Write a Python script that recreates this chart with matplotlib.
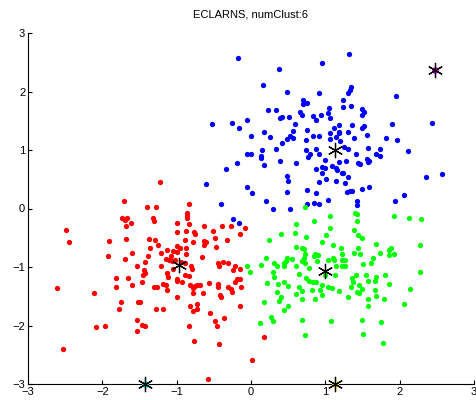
"""Clustering scatter: ECLARNS result with six cluster centres."""
import matplotlib
matplotlib.use("Agg")
import matplotlib.pyplot as plt
import numpy as np

# --------------------------------------------------------------------------- #
# Data
# --------------------------------------------------------------------------- #
red_pts = [
    (-1.71, 0.12), (-1.40, 0.03), (-1.73, -0.17), (-1.67, -0.17), (-1.69, -0.20),
    (-1.62, -0.24), (-1.68, -0.30), (-2.49, -0.36), (-2.45, -0.57), (-1.91, -0.55),
    (-1.68, -0.52), (-1.37, -0.52), (-1.36, -0.67), (-1.60, -0.76), (-1.93, -0.81),
    (-1.69, -0.87), (-1.38, -0.82), (-1.43, -0.92), (-1.54, -0.98), (-1.44, -1.05),
    (-1.42, -1.11), (-1.45, -1.14), (-1.82, -1.18), (-1.66, -1.18), (-2.61, -1.36),
    (-2.11, -1.44), (-1.81, -1.34), (-1.60, -1.31), (-1.46, -1.25), (-1.75, -1.59),
    (-1.52, -1.60), (-1.78, -1.72), (-1.53, -1.91), (-1.47, -1.99), (-1.43, -2.01),
    (-1.53, -2.09), (-2.08, -2.03), (-1.97, -2.01), (-2.53, -2.41), (-1.22, 0.45),
    (-1.28, 0.03), (-0.83, 0.08), (-1.32, -0.17), (-1.31, -0.21), (-0.86, -0.08),
    (-0.86, -0.12), (-0.86, -0.17), (-0.99, -0.25), (-0.84, -0.27), (-0.99, -0.40),
    (-0.87, -0.38), (-0.76, -0.41), (-0.75, -0.44), (-0.63, -0.30), (-0.39, -0.30),
    (-0.27, -0.30), (-0.08, -0.33), (-0.51, -0.38), (-0.15, -0.44), (-1.29, -0.53),
    (-0.89, -0.53), (-0.78, -0.58), (-0.63, -0.56), (-0.60, -0.58), (-0.63, -0.62),
    (-0.48, -0.51), (-0.32, -0.53), (-0.47, -0.65), (-1.25, -0.62), (-1.00, -0.64),
    (-0.95, -0.68), (-0.87, -0.67), (-1.13, -0.71), (-1.05, -0.72), (-1.00, -0.74),
    (-1.21, -0.76), (-0.87, -0.78), (-1.07, -0.81), (-0.66, -0.83), (-1.14, -0.87),
    (-1.10, -0.88), (-1.06, -0.89), (-1.02, -0.88), (-0.94, -0.91), (-0.89, -0.94),
    (-0.45, -0.94), (-0.43, -0.98), (-0.38, -0.91), (-0.31, -0.94), (-0.21, -0.98),
    (-1.21, -0.99), (-1.05, -1.03), (-0.81, -0.98), (-0.79, -1.04), (-1.13, -1.11),
    (-1.12, -1.17), (-1.00, -1.21), (-0.89, -1.14), (-0.83, -1.15), (-0.24, -1.05),
    (-0.15, -1.04), (-0.19, -1.21), (-0.15, -1.20), (-1.31, -1.34), (-1.26, -1.34),
    (-1.18, -1.29), (-1.15, -1.31), (-1.00, -1.24), (-0.93, -1.25), (-1.13, -1.39),
    (-1.00, -1.52), (-0.82, -1.31), (-0.78, -1.36), (-0.75, -1.32), (-0.72, -1.31),
    (-0.69, -1.30), (-0.78, -1.45), (-0.64, -1.45), (-0.56, -1.27), (-0.45, -1.29),
    (-0.44, -1.34), (-0.42, -1.48), (-0.40, -1.51), (-0.31, -1.35), (-0.27, -1.38),
    (-0.26, -1.43), (-0.21, -1.25), (-0.13, -1.35), (-1.49, -1.60), (-1.28, -1.72),
    (-1.18, -1.72), (-0.82, -1.67), (-0.72, -1.64), (-0.72, -1.72), (-0.78, -1.76),
    (-0.55, -1.78), (-0.15, -1.67), (-0.36, -1.87), (-0.48, -1.92), (-0.46, -2.01),
    (-0.83, -2.01), (-0.77, -2.26), (-0.43, -2.32), (0.02, -2.59), (-0.58, -2.92),
    (0.17, -2.20),
]

blue_pts = [
    (-0.17, 2.57), (0.38, 2.38), (0.96, 2.49), (0.16, 2.11), (0.48, 2.00),
    (0.92, 1.97), (0.70, 1.85), (0.70, 1.79), (0.75, 1.81), (0.23, 1.68),
    (0.33, 1.68), (0.66, 1.65), (0.68, 1.60), (1.05, 1.71), (1.04, 1.64),
    (1.06, 1.54), (0.94, 1.60), (0.83, 1.58), (0.87, 1.51), (0.39, 1.54),
    (0.42, 1.56), (0.51, 1.56), (0.59, 1.44), (-0.05, 1.52), (-0.52, 1.44),
    (-0.26, 1.46), (-0.16, 1.38), (0.18, 1.31), (0.57, 1.32), (0.76, 1.35),
    (1.11, 1.37), (0.00, 1.24), (0.25, 1.22), (0.52, 1.24), (0.57, 1.21),
    (0.48, 1.19), (0.84, 1.24), (0.91, 1.24), (1.06, 1.29), (1.06, 1.19),
    (0.74, 1.17), (0.42, 1.12), (0.15, 1.00), (0.34, 1.02), (0.74, 1.00),
    (0.88, 1.02), (-0.05, 0.94), (0.00, 0.93), (0.13, 0.90), (0.13, 0.86),
    (0.80, 0.93), (0.77, 0.88), (0.91, 0.93), (0.99, 0.83), (0.17, 0.75),
    (0.39, 0.81), (0.61, 0.78), (-0.34, 0.68), (-0.19, 0.77), (0.88, 0.67),
    (0.95, 0.71), (0.99, 0.69), (1.09, 0.73), (0.95, 0.60), (0.49, 0.56),
    (0.50, 0.47), (1.01, 0.51), (0.92, 0.45), (-0.60, 0.42), (-0.05, 0.37),
    (0.01, 0.26), (0.48, 0.28), (0.75, 0.31), (0.88, 0.26), (-0.40, 0.07),
    (0.20, 0.12), (0.29, 0.00), (0.52, 0.00), (0.76, 0.07), (0.85, 0.09),
    (0.91, 0.07), (1.03, 0.14), (-0.24, -0.18), (-0.16, -0.24), (1.42, 0.13),
    (1.42, 0.06), (1.94, 0.13), (2.06, 0.23), (1.32, 2.64), (1.95, 1.93),
    (1.35, 2.07), (1.33, 2.03), (1.31, 1.98), (1.24, 1.85), (1.24, 1.73),
    (1.35, 1.75), (1.49, 1.70), (1.52, 1.65), (1.49, 1.60), (1.18, 1.42),
    (1.18, 1.31), (1.19, 1.29), (1.36, 1.42), (1.52, 1.41), (1.50, 1.37),
    (1.90, 1.44), (2.43, 1.46), (1.30, 1.30), (1.56, 1.26), (1.14, 1.23),
    (1.38, 1.21), (1.81, 1.21), (1.96, 1.17), (1.20, 1.16), (1.25, 1.05),
    (1.30, 1.02), (1.57, 1.03), (1.74, 1.02), (2.11, 0.98), (1.41, 0.93),
    (1.68, 0.93), (1.73, 0.90), (1.19, 0.80), (1.28, 0.82), (1.44, 0.78),
    (1.47, 0.76), (1.56, 0.84), (1.57, 0.80), (1.59, 0.81), (1.14, 0.70),
    (1.16, 0.66), (1.22, 0.61), (1.24, 0.61), (1.30, 0.53), (1.15, 0.47),
    (1.27, 0.43), (2.35, 0.54), (2.57, 0.59), (1.59, 0.37), (1.49, 0.33),
    (1.29, 0.28), (1.33, 0.30), (1.36, 0.30),
]

green_pts = [
    (0.73, 0.03), (0.85, -0.21), (1.06, -0.13), (0.61, -0.27), (1.06, -0.34),
    (1.40, -0.08), (1.42, -0.10), (1.43, -0.21), (1.38, -0.36), (0.24, -0.53),
    (0.40, -0.44), (0.59, -0.42), (0.74, -0.48), (1.01, -0.46), (0.95, -0.58),
    (1.10, -0.62), (0.61, -0.65), (0.68, -0.67), (0.71, -0.69), (1.21, -0.67),
    (1.44, -0.68), (0.73, -0.78), (0.86, -0.77), (0.90, -0.79), (0.85, -0.81),
    (1.22, -0.77), (1.38, -0.76), (0.20, -0.85), (0.49, -0.85), (0.55, -0.86),
    (0.47, -0.89), (0.71, -0.85), (0.68, -0.90), (0.73, -0.94), (0.89, -0.90),
    (1.04, -0.88), (1.10, -0.84), (1.12, -0.88), (1.22, -0.88), (1.27, -0.88),
    (0.45, -0.94), (0.44, -0.98), (0.31, -0.94), (0.35, -0.98), (0.61, -0.98),
    (0.78, -1.02), (1.15, -0.98), (1.22, -0.99), (1.26, -0.98), (-0.06, -0.99),
    (-0.01, -1.09), (0.14, -0.97), (0.30, -1.08), (0.65, -1.12), (1.13, -1.14),
    (0.31, -1.17), (0.74, -1.18), (0.78, -1.24), (0.83, -1.26), (0.88, -1.26),
    (1.00, -1.14), (0.96, -1.30), (1.36, -1.19), (1.37, -1.26), (1.41, -1.14),
    (0.22, -1.27), (0.37, -1.29), (0.44, -1.25), (0.50, -1.32), (0.65, -1.35),
    (0.68, -1.41), (0.82, -1.39), (0.93, -1.39), (1.04, -1.35), (1.09, -1.36),
    (1.18, -1.41), (1.35, -1.34), (1.42, -1.42), (0.35, -1.42), (0.61, -1.47),
    (0.96, -1.48), (0.40, -1.51), (0.38, -1.58), (0.68, -1.54), (0.86, -1.55),
    (1.30, -1.52), (0.17, -1.60), (0.50, -1.67), (0.45, -1.74), (0.27, -1.85),
    (0.29, -1.92), (0.12, -1.95), (0.68, -1.91), (1.08, -1.92), (0.73, -2.17),
    (1.92, -0.13), (2.13, -0.16), (2.29, -0.18), (1.44, -0.46), (1.50, -0.50),
    (1.68, -0.61), (1.85, -0.71), (1.89, -0.67), (1.86, -0.79), (1.92, -0.78),
    (1.74, -0.76), (2.27, -0.62), (1.47, -0.78), (1.64, -0.84), (1.62, -0.94),
    (1.51, -0.95), (2.27, -1.09), (1.55, -1.14), (1.68, -1.17), (1.67, -1.24),
    (1.58, -1.24), (1.80, -1.13), (1.85, -1.29), (1.45, -1.30), (1.49, -1.38),
    (1.45, -1.45), (2.14, -1.38), (1.67, -1.39), (1.68, -1.50), (1.58, -1.55),
    (1.79, -1.55), (1.57, -1.67), (2.06, -1.64), (1.50, -1.91), (1.75, -1.94),
    (1.51, -2.15), (1.78, -2.30),
]

# cluster centres, in cluster order
centre_x = [-0.97, 1.13, 1.00, -1.43, 1.13, 2.48]
centre_y = [-0.97, 1.00, -1.06, -3.00, -3.00, 2.37]
cluster_colors = ["#FF0000", "#0000FF", "#00FF00", "#00FFFF", "#FFFF00", "#FF00FF"]

ticks = [-3, -2, -1, 0, 1, 2, 3]
title = "ECLARNS, numClust:6"

# --------------------------------------------------------------------------- #
# Style
# --------------------------------------------------------------------------- #
plt.rcParams.update({
    "font.family": ["Liberation Sans", "DejaVu Sans"],
    "font.size": 8,
    "xtick.direction": "in",
    "ytick.direction": "in",
    "xtick.major.size": 3.0,
    "ytick.major.size": 3.0,
    "xtick.major.width": 0.8,
    "ytick.major.width": 0.8,
    "axes.linewidth": 0.8,
})

ASTERISK = (6, 2, 0)

fig = plt.figure(figsize=(4.76, 4.0), dpi=100)
ax = fig.add_axes([0.0588, 0.04, 0.937, 0.8775])

for pts, color in zip([red_pts, blue_pts, green_pts], cluster_colors[:3]):
    arr = np.array(pts)
    ax.plot(arr[:, 0], arr[:, 1], "o", color=color, ms=3.8, mec="none")

# singleton clusters: coloured point under the centre marker
for cx, cy, color in zip(centre_x[3:], centre_y[3:], cluster_colors[3:]):
    ax.plot(cx, cy, "o", color=color, ms=5.0, mec="none", clip_on=False, zorder=3)

ax.plot(centre_x, centre_y, ls="none", marker=ASTERISK, ms=11, mew=0.9,
        color="black", clip_on=False, zorder=4)

ax.set_xlim(-3, 3)
ax.set_ylim(-3, 3)
ax.set_xticks(ticks)
ax.set_yticks(ticks)
ax.tick_params(labelsize=8, pad=2)
ax.spines["top"].set_visible(False)
ax.spines["right"].set_visible(False)
ax.set_title(title, fontsize=8, pad=11.5)

fig.savefig("out.png", dpi=100)
